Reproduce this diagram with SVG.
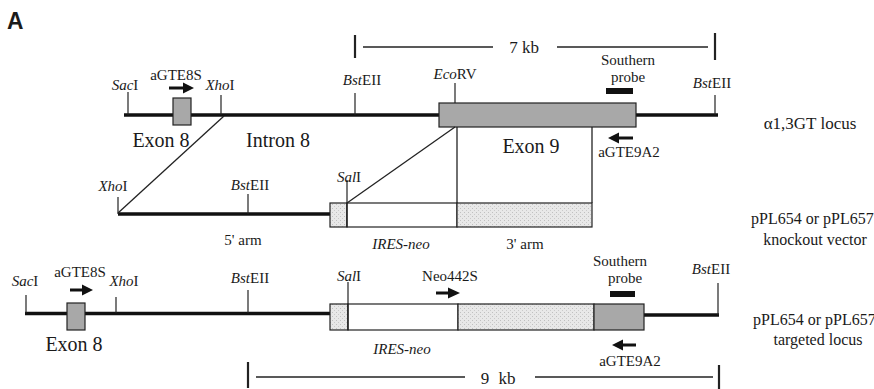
<svg xmlns="http://www.w3.org/2000/svg" width="874" height="389" viewBox="0 0 874 389">
<style>
text{font-family:"Liberation Serif","Times New Roman",serif;fill:#1a1a1a}
.s{font-size:15px}
.m{font-size:17px}
.r{font-size:16px}
.l{font-size:20px}
.i{font-style:italic}
.dna{stroke:#111;stroke-width:3.5;fill:none}
.tick{stroke:#222;stroke-width:1.2;fill:none}
.thin{stroke:#222;stroke-width:1.3;fill:none}
.exon{fill:#a8a8a8;stroke:#222;stroke-width:1.2}
.dot{fill:url(#stip);stroke:#222;stroke-width:1.2}
.wht{fill:#fff;stroke:#222;stroke-width:1.2}
.bar{fill:#111}
.arr{stroke:#111;stroke-width:3;fill:none}
.scale{stroke:#222;stroke-width:1.3}
.stick{stroke:#222;stroke-width:2.2}
</style>
<defs>
<pattern id="stip" width="4" height="4" patternUnits="userSpaceOnUse">
<rect width="4" height="4" fill="#e8e8e8"/>
<rect x="0" y="0" width="1" height="1" fill="#c0c0c0"/>
<rect x="2" y="2" width="1" height="1" fill="#cacaca"/>
</pattern>
</defs>
<rect width="874" height="389" fill="#fff"/>
<text x="7" y="29" style="font-family:'Liberation Sans',Arial,sans-serif;font-weight:bold;font-size:24px" transform="translate(7 0) scale(0.95 1) translate(-7 0)">A</text>

<!-- Row 1: alpha1,3GT locus -->
<g id="locus">
<line class="dna" x1="124" y1="115" x2="718" y2="115"/>
<line class="tick" x1="128" y1="92" x2="128" y2="115"/>
<line class="tick" x1="221" y1="95" x2="221" y2="115"/>
<line class="tick" x1="355" y1="93" x2="355" y2="115"/>
<line class="tick" x1="455" y1="83" x2="455" y2="103"/>
<line class="tick" x1="715" y1="95" x2="715" y2="115"/>
<text class="s" x="125" y="90" text-anchor="middle"><tspan class="i">Sac</tspan>I</text>
<text class="s" x="220" y="90" text-anchor="middle"><tspan class="i">Xho</tspan>I</text>
<text class="s" x="362" y="85" text-anchor="middle"><tspan class="i">Bst</tspan>EII</text>
<text class="s" x="455" y="79" text-anchor="middle"><tspan class="i">Eco</tspan>RV</text>
<text class="s" x="712" y="88" text-anchor="middle"><tspan class="i">Bst</tspan>EII</text>
<text class="m" x="810" y="129" text-anchor="middle">α1,3GT locus</text>
</g>
<g id="exon8-top">
<rect class="exon" x="173" y="98" width="18" height="27"/>
<text class="l" x="161" y="147" text-anchor="middle">Exon 8</text>
</g>
<text class="l" x="278" y="147" text-anchor="middle">Intron 8</text>
<g id="primer-aGTE8S-top">
<line class="arr" x1="169" y1="88" x2="185" y2="88"/>
<polygon class="bar" points="183,82.5 194,88 183,93.5"/>
<text class="s" x="176" y="80" text-anchor="middle">aGTE8S</text>
</g>
<g id="exon9-top">
<rect class="exon" x="439" y="103" width="197" height="24"/>
<text class="l" x="531" y="153" text-anchor="middle">Exon 9</text>
</g>
<g id="probe-top">
<rect class="bar" x="606" y="88" width="27" height="6"/>
<text class="s" x="628" y="65" text-anchor="middle">Southern</text>
<text class="s" x="628" y="82" text-anchor="middle">probe</text>
</g>
<g id="primer-aGTE9A2-top">
<line class="arr" x1="618" y1="138" x2="633" y2="138"/>
<polygon class="bar" points="619,132.5 608,138 619,143.5"/>
<text class="s" x="629" y="157" text-anchor="middle">aGTE9A2</text>
</g>
<g id="scale-7kb">
<line class="stick" x1="355" y1="35" x2="355" y2="58"/>
<line class="scale" x1="363" y1="47" x2="493" y2="47"/>
<text class="m" x="524" y="53" text-anchor="middle">7 kb</text>
<line class="scale" x1="557" y1="47" x2="708" y2="47"/>
<line class="stick" x1="715" y1="33" x2="715" y2="60"/>
</g>

<!-- Row 2: knockout vector -->
<g id="vector">
<line class="dna" x1="118" y1="214" x2="330" y2="214"/>
<line class="tick" x1="118" y1="197" x2="118" y2="214"/>
<line class="tick" x1="248" y1="194" x2="248" y2="214"/>
<rect class="dot" x="330" y="203" width="17" height="24"/>
<rect class="wht" x="347" y="203" width="110" height="24"/>
<rect class="dot" x="457" y="203" width="135" height="24"/>
<line class="tick" x1="347" y1="180" x2="347" y2="227"/>
<text class="s" x="113" y="191" text-anchor="middle"><tspan class="i">Xho</tspan>I</text>
<text class="s" x="250" y="190" text-anchor="middle"><tspan class="i">Bst</tspan>EII</text>
<text class="s" x="349" y="182" text-anchor="middle"><tspan class="i">Sal</tspan>I</text>
<text class="s" x="243" y="245" text-anchor="middle">5' arm</text>
<text class="s i" x="401" y="249" text-anchor="middle">IRES-neo</text>
<text class="s" x="525" y="249" text-anchor="middle">3' arm</text>
<text class="r" x="751" y="224">pPL654 or pPL657</text>
<text class="r" x="815" y="245" text-anchor="middle">knockout vector</text>
</g>

<!-- Homology connectors -->
<g id="connectors">
<line class="thin" x1="224" y1="116" x2="118" y2="213"/>
<line class="thin" x1="455" y1="127" x2="347" y2="203"/>
<line class="thin" x1="457" y1="127" x2="457" y2="203"/>
<line class="thin" x1="592" y1="127" x2="592" y2="203"/>
</g>

<!-- Row 3: targeted locus -->
<g id="targeted">
<line class="dna" x1="25" y1="313.5" x2="330" y2="313.5"/>
<line class="dna" x1="644" y1="315" x2="719" y2="315"/>
<line class="tick" x1="26" y1="295" x2="26" y2="313"/>
<line class="tick" x1="116" y1="297" x2="116" y2="313"/>
<line class="tick" x1="248" y1="290" x2="248" y2="313"/>
<line class="tick" x1="718" y1="283" x2="718" y2="315"/>
<rect class="dot" x="330" y="304" width="18" height="26"/>
<rect class="wht" x="348" y="304" width="110" height="26"/>
<rect class="dot" x="458" y="304" width="136" height="26"/>
<rect class="exon" x="594" y="304" width="50" height="26"/>
<line class="tick" x1="348" y1="282" x2="348" y2="330"/>
<text class="s" x="25" y="286" text-anchor="middle"><tspan class="i">Sac</tspan>I</text>
<text class="s" x="124" y="286" text-anchor="middle"><tspan class="i">Xho</tspan>I</text>
<text class="s" x="250" y="283" text-anchor="middle"><tspan class="i">Bst</tspan>EII</text>
<text class="s" x="349" y="281" text-anchor="middle"><tspan class="i">Sal</tspan>I</text>
<text class="s" x="711" y="274" text-anchor="middle"><tspan class="i">Bst</tspan>EII</text>
<text class="s i" x="402" y="354" text-anchor="middle">IRES-neo</text>
<text class="r" x="753" y="325">pPL654 or pPL657</text>
<text class="r" x="818" y="345" text-anchor="middle">targeted locus</text>
</g>
<g id="exon8-bottom">
<rect class="exon" x="67" y="303" width="18" height="27"/>
<text class="l" x="74" y="351" text-anchor="middle">Exon 8</text>
</g>
<g id="primer-aGTE8S-bottom">
<line class="arr" x1="70" y1="290" x2="84" y2="290"/>
<polygon class="bar" points="82,284.5 93,290 82,295.5"/>
<text class="s" x="80" y="277" text-anchor="middle">aGTE8S</text>
</g>
<g id="primer-neo442S">
<line class="arr" x1="436" y1="293" x2="450" y2="293"/>
<polygon class="bar" points="448,287.5 460,293 448,298.5"/>
<text class="s" x="450" y="281" text-anchor="middle">Neo442S</text>
</g>
<g id="probe-bottom">
<rect class="bar" x="610" y="291" width="25" height="6"/>
<text class="s" x="620" y="266" text-anchor="middle">Southern</text>
<text class="s" x="625" y="283" text-anchor="middle">probe</text>
</g>
<g id="primer-aGTE9A2-bottom">
<line class="arr" x1="622" y1="345" x2="636" y2="345"/>
<polygon class="bar" points="623,339.5 612,345 623,350.5"/>
<text class="s" x="630" y="366" text-anchor="middle">aGTE9A2</text>
</g>
<g id="scale-9kb">
<line class="stick" x1="248" y1="362" x2="248" y2="388"/>
<line class="scale" x1="256" y1="377" x2="465" y2="377"/>
<text class="m" x="498" y="384" text-anchor="middle" word-spacing="5">9 kb</text>
<line class="scale" x1="535" y1="377" x2="713" y2="377"/>
<line class="stick" x1="719" y1="365" x2="719" y2="389"/>
</g>
</svg>
